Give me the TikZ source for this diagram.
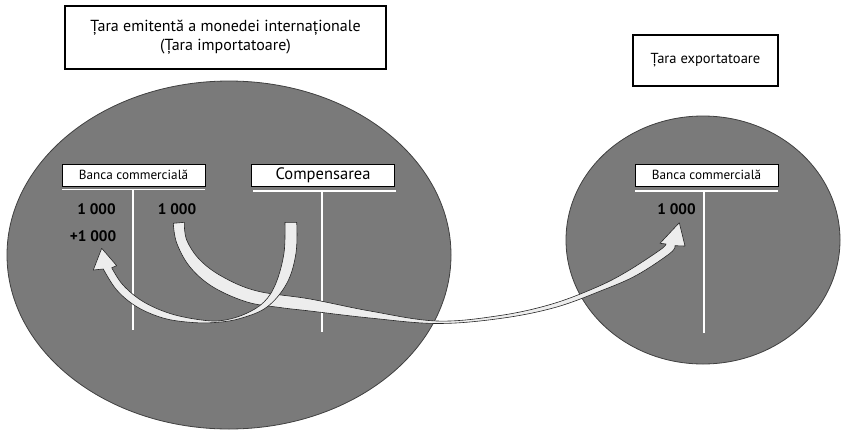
\documentclass[tikz,border=0pt]{standalone}
\usepackage{fontspec}
\setmainfont{PT Sans}
\usetikzlibrary{positioning}
\definecolor{ctrygray}{HTML}{7A7A7A}
\definecolor{fatgray}{HTML}{EDEDED}
\tikzset{
  ctry/.style={fill=ctrygray,draw=black!75,line width=0.6pt},
  titlebox/.style={draw=black,fill=white,line width=0.8pt,inner sep=0pt,align=center,font=\fontsize{12}{14.3}\selectfont},
  acct/.style={draw=black,fill=white,line width=0.6pt,inner sep=0pt,minimum width=107.25pt,minimum height=16.5pt},
  tline/.style={draw=white,line width=1.3pt},
  num/.style={font=\bfseries\fontsize{11.4}{13}\selectfont,inner sep=0pt},
  fat/.style={fill=fatgray,draw=black!85,line width=0.45pt,line join=round}
}
\begin{document}
\begin{tikzpicture}[x=0.75pt,y=-0.75pt]
\useasboundingbox (0,0) rectangle (841,432);
\draw[ctry] (229,255) ellipse [x radius=222,y radius=174];
\draw[ctry] (703,240) ellipse [x radius=137,y radius=124];
\node[titlebox,minimum width=240.75pt,minimum height=47.25pt](emit)at(225.5,37.5){Țara emitentă a monedei internaționale\\(Țara importatoare)};
\node[titlebox,font=\fontsize{10.9}{13}\selectfont,minimum width=108.75pt,minimum height=38.25pt](exp)at(705.5,60.5){Țara exportatoare};
\node[acct,font=\fontsize{9.9}{11}\selectfont](bank1)at(133.5,175){Banca commercială};
\node[acct,font=\fontsize{12.4}{13}\selectfont](comp)at(323,175){Compensarea};
\node[acct,font=\fontsize{9.9}{11}\selectfont](bank2)at(706.5,175){Banca commercială};
\draw[tline] (62,189.5) -- (205,189.5) (133,189.5) -- (133,330);
\draw[tline] (253,191) -- (396,191) (322,191) -- (322,332);
\draw[tline] (635,191) -- (778,191) (704,191) -- (704,333);
\node[num](d1)at(96.5,209){1 000};
\node[num,anchor=east](d2)at(116.5,236){+1 000};
\node[num](c1)at(177,209){1 000};
\node[num](d3)at(676.5,209){1 000};
\coordinate (tipB) at (679.3,222.7);
\coordinate (tipA) at (101.7,248.3);
\draw[fat] plot[smooth,tension=0.6] coordinates {(184.3,222.3) (186.7,240) (200,260) (223,277) (257,291) (310,299) (370,311) (437,321) (500,315.5) (552,304) (597,287) (627,271.5) (660,250) (666,244)}
  -- (660,243.3) -- (tipB) -- (685,246) -- (675,245.7)
  -- plot[smooth,tension=0.6] coordinates {(675,245.7) (670,253.3) (637,275) (603,290) (555,307.5) (500,318.5) (437,323.5) (370,318) (310,311) (280,307.5) (247,302) (213,287) (190,267) (176.7,243) (173.3,223.3)} -- cycle;
\draw[fat] plot[smooth,tension=0.6] coordinates {(296.7,222.3) (296,253) (287,283) (267,307) (240,318.5) (215,322.5) (190,322.3) (163,318) (136.7,306.7) (116.7,290) (103.3,269)}
  -- (93.3,270) -- (tipA) -- (116.7,265.7) -- (111.7,267.7)
  -- plot[smooth,tension=0.6] coordinates {(111.7,267.7) (123,285) (143,301.5) (170,313.5) (200,319.8) (222,320.5) (245,314) (264,302) (276,283) (284,253) (285,222.3)} -- cycle;
\end{tikzpicture}
\end{document}
